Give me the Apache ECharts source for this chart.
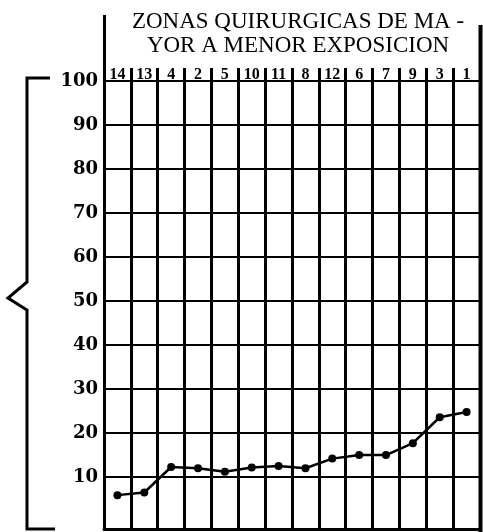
<!DOCTYPE html>
<html>
<head>
<meta charset="utf-8">
<script src="https://cdn.jsdelivr.net/npm/echarts@6/dist/echarts.min.js"></script>
<style>html,body{margin:0;padding:0;background:#fff}#c{width:483px;height:532px}</style>
</head>
<body>
<div id="c"></div>
<script>
const categories = ['14','13','4','2','5','10','11','8','12','6','7','9','3','1'];
const values = [5.9, 6.5, 12.3, 12.0, 11.2, 12.2, 12.5, 12.0, 14.2, 15.0, 15.0, 17.7, 23.6, 24.8];
const yTicks = [10, 20, 30, 40, 50, 60, 70, 80, 90, 100];
const titleLines = ['ZONAS QUIRURGICAS DE MA -', 'YOR A MENOR EXPOSICION'];

const chart = echarts.init(document.getElementById('c'), null, {renderer: 'canvas'});
chart.setOption({
  animation: false,
  backgroundColor: '#fff',
  title: {
    text: titleLines.join('\n'),
    left: 293, top: 5, textAlign: 'center',
    textStyle: {fontFamily: 'Liberation Serif', fontWeight: 'normal', fontSize: 23, lineHeight: 24, color: '#000'}
  },
  grid: {left: 104, right: 3, top: 68, bottom: 3},
  xAxis: [{
    type: 'category', data: categories, position: 'top', boundaryGap: true,
    axisLine: {show: false}, axisTick: {show: false},
    axisLabel: {inside: true, margin: -1, interval: 0, fontFamily: 'Liberation Serif', fontWeight: 'bold', fontSize: 16, color: '#000'},
    splitLine: {show: true, interval: 0, lineStyle: {color: '#000', width: 3}}
  }, {
    type: 'category', data: categories, position: 'bottom', boundaryGap: true,
    axisLine: {show: true, lineStyle: {color: '#000', width: 3}},
    axisTick: {show: false}, axisLabel: {show: false}, splitLine: {show: false}
  }],
  yAxis: {
    type: 'value', min: -1.8, max: 103,
    axisLine: {show: true, lineStyle: {color: '#000', width: 3}},
    axisTick: {show: false},
    splitLine: {show: false},
    axisLabel: {customValues: yTicks, margin: 6, fontFamily: 'DejaVu Serif', fontWeight: 'bold', fontSize: 18, color: '#000'}
  },
  series: [{
    type: 'line', data: values, xAxisIndex: 0,
    symbol: 'circle', symbolSize: 8,
    itemStyle: {color: '#000'}, lineStyle: {color: '#000', width: 2.5},
    markLine: {
      silent: true, symbol: ['none', 'none'], label: {show: false},
      lineStyle: {color: '#000', type: 'solid', width: 2},
      data: yTicks.map(v => ({yAxis: v}))
    },
    z: 5
  }],
  graphic: [
    {type: 'line', shape: {x1: 104.5, y1: 15, x2: 104.5, y2: 70}, style: {stroke: '#000', lineWidth: 3}},
    {type: 'line', shape: {x1: 480.5, y1: 25, x2: 480.5, y2: 532}, style: {stroke: '#000', lineWidth: 4}},
    {type: 'polyline', shape: {points: [[50, 78], [27, 78], [27, 282], [8, 298], [27, 310], [27, 529], [55, 529]]}, style: {stroke: '#000', lineWidth: 3, fill: null}}
  ]
});
</script>
</body>
</html>
